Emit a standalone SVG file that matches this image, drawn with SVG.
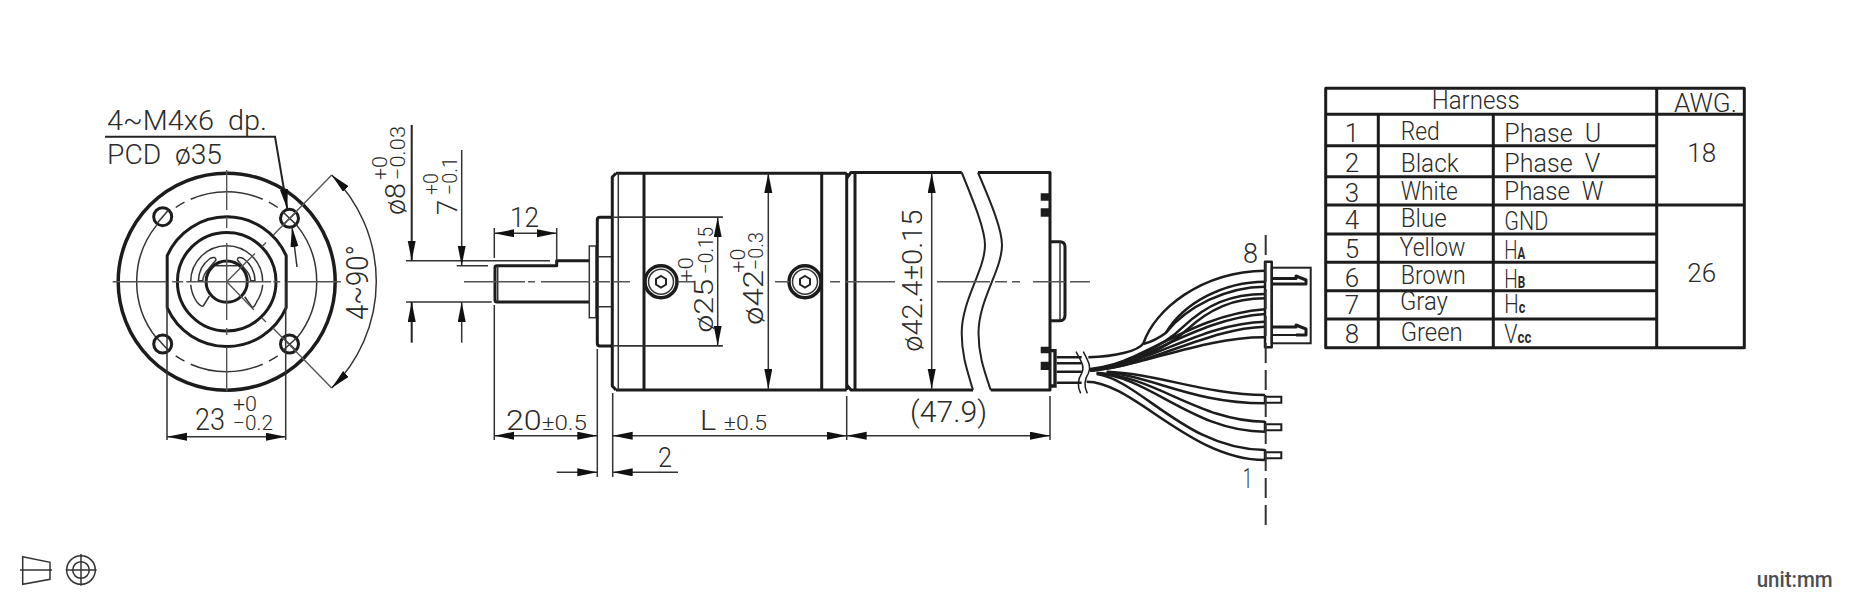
<svg xmlns="http://www.w3.org/2000/svg" width="1850" height="594" viewBox="0 0 1850 594">
<defs>
<marker id="a" markerUnits="userSpaceOnUse" markerWidth="21" markerHeight="9" refX="20" refY="4" orient="auto-start-reverse"><path d="M0 0L20 4L0 8z" style="fill:#111;stroke:none"/></marker>
</defs>
<style>
text{font-family:Roboto,"Liberation Sans",sans-serif;font-weight:300;fill:#2a2a2a;font-size:28px}
.s{font-size:21px}
.tb{font-size:26px}
.sub{font-size:16px;font-weight:700}
path,line,rect,circle{fill:none;stroke-linecap:butt}
.k{stroke:#1c1c1c;stroke-width:3;stroke-linejoin:round}
.m{stroke:#222;stroke-width:2}
.t{stroke:#333;stroke-width:1.5}
.c{stroke:#555;stroke-width:1.4}
.both{marker-start:url(#a);marker-end:url(#a)}
.end{marker-end:url(#a)}
.wire{stroke:#1c1c1c;stroke-width:7.5;fill:none}
.wire2{stroke:#1c1c1c;stroke-width:10;fill:none}
</style>
<rect x="0" y="0" width="1850" height="594" style="fill:#fff;stroke:none"/>

<g id="front-view">
<g transform="translate(226.7 281.7)">
<circle class="k" r="108.5" style="stroke-width:3.5"/>
<path class="t" d="M-36 -82.5A90 90 0 0 1 36 -82.5M-42.2 -79.5A90 90 0 0 0 -51 -74.2M42.2 -79.5A90 90 0 0 1 51 -74.2M-70 -56.6A90 90 0 0 0 -70 56.6M70 -56.6A90 90 0 0 1 70 56.6M-36 82.5A90 90 0 0 0 36 82.5M-42.2 79.5A90 90 0 0 1 -51 74.2M42.2 79.5A90 90 0 0 0 51 74.2"/>
<path class="k" d="M-59.5 -26A65 65 0 0 1 59.5 -26L59.5 26A65 65 0 0 1 -59.5 26Z"/>
<circle class="k" r="49.3"/>
<circle class="k" r="20.6"/>
<path class="t" d="M-36 0A36 36 0 0 1 36 0"/>
<path class="t" d="M-11 -16H11"/>
<path class="t" d="M-28.3 -1A28.3 28.3 0 0 1 -16.7 -23.2Q-11 -26 -10.7 -21.7L-18.3 -12.7A20 20 0 0 0 -24 -1ZM28.3 -1A28.3 28.3 0 0 0 16.7 -23.2Q11 -26 10.7 -21.7L18.3 -12.7A20 20 0 0 1 24 -1Z"/>
<path class="t" d="M-36 3A36 36 0 0 0 -30 20Q-25 26 -23.3 24L-17.3 14.3M36 3A36 36 0 0 1 30 20Q27 27 25 25L18 15"/>
<circle class="k" cx="62.8" cy="-63.4" r="9"/><path class="t" d="M56 -70L70 -56.6M70 -70L56 -56.6"/>
<circle class="k" cx="-64" cy="-65" r="9"/><path class="t" d="M-70 -58L-58 -72"/>
<circle class="k" cx="-64" cy="62.3" r="9"/><path class="t" d="M-70 56L-58 69"/>
<circle class="k" cx="62.8" cy="62.3" r="9"/><path class="t" d="M56 69L70 56M70 69L56 56"/>
<path class="c" d="M-114 0H-60M-54.5 0H-43.5M-40.5 0H44.5M46.5 0H53.5M60.5 0H114M0 -111.7V-71.7M0 -64.7V-53.7M0 -38.7V38.3M0 46.3V53.3M0 65.3V110"/>
<path class="c" d="M0 0L28.3 -28.3M35 -35L39.3 -39.3M46.7 -46.7L105 -106.7M0 0L27.3 28.3M35 36L39.3 40.3M46 46L105 106.3"/>
</g>
<path class="t" d="M167 282V440M285.7 282V440"/>
<path class="t both" d="M167 436.7H285.7"/>
<path class="t both" d="M331.7 175A149.5 149.5 0 0 1 331.7 388"/>
<path class="m end" d="M105 136.7H275L287.3 209"/>
<path class="t end" d="M297 267L292 227"/>
<text x="107" y="130" textLength="160" lengthAdjust="spacingAndGlyphs">4~M4x6&#160;&#160;dp.</text>
<text x="107" y="164" textLength="115" lengthAdjust="spacingAndGlyphs">PCD&#160;&#160;ø35</text>
<text x="195" y="430" textLength="30" lengthAdjust="spacingAndGlyphs" style="font-size:31px">23</text>
<text x="233" y="411" textLength="24" lengthAdjust="spacingAndGlyphs" class="s">+0</text>
<text x="233" y="430" textLength="40" lengthAdjust="spacingAndGlyphs" class="s">−0.2</text>
<text transform="translate(368 320) rotate(-90)" textLength="75" lengthAdjust="spacingAndGlyphs" style="font-size:31px">4~90°</text>
</g>

<g id="side-view">
<path class="k" d="M495 300V267.5Q495 265.7 497 265.7H556.7V260.7H590M590 302H497Q495 302 495 300"/>
<path class="t" d="M497.7 266V302"/>
<rect class="t" x="589.3" y="246" width="6.7" height="71.7"/>
<path class="k" d="M612.3 217.3H600Q597.3 217.3 597.3 220V343Q597.3 346 600 346H612.3"/>
<path class="t" d="M597.3 256.7H612.3M597.3 306.7H612.3"/>
<path class="k" d="M616 173.2L612.3 177V386L616 390M846.7 173.2H616M846.7 390H616"/>
<path class="t" d="M618.3 173V390M618 217.3H722.7M618 345.7H722.7"/>
<path class="k" d="M644 173V390M821.7 173V390M846.7 173V390"/>
<path class="k" d="M846.7 178L851 172.5H961.7M846.7 385L851 390H973M855 172.5V390M978 172.5H1050V390H990.7"/>
<path class="m" d="M961.7 172.5C975 205 985 230 985 245C985 270 961.7 300 961.7 333C961.7 355 967 370 973 390M978 172.5C992 205 1002 230 1002 245C1002 270 978.5 300 978.5 333C978.5 355 984 370 990.7 390"/>
<path d="M1040.7 193.3h9.3v7.4h-9.3zM1040.7 208.3h9.3v8.4h-9.3zM1040.7 346.7h9.3v6.6h-9.3zM1040.7 361.7h9.3v8.3h-9.3z" style="fill:#1c1c1c;stroke:none"/>
<path class="k" d="M1050 241.7H1060Q1065 241.7 1065 247V315Q1065 320.7 1060 320.7H1050"/>
<path class="t" d="M1060 242V320"/>
<g id="screws">
<circle class="k" cx="661" cy="281.7" r="16" style="stroke-width:3.5"/><circle class="t" cx="661" cy="281.7" r="12.5"/><path class="m" d="M661 276L666 279V284.5L661 287.5L656 284.5V279Z"/>
<circle class="k" cx="805" cy="281.7" r="16" style="stroke-width:3.5"/><circle class="t" cx="805" cy="281.7" r="12.5"/><path class="m" d="M805 276L810 279V284.5L805 287.5L800 284.5V279Z"/>
</g>
<path class="c" d="M464 281.7H525M528 281.7H535M541 281.7H590M593 281.7H596M597 281.7H610M613 281.7H630M678 281.7H695M775 281.7H789M830 281.7H840M846 281.7H895M937 281.7H990M995 281.7H1007M1012 281.7H1020M1033 281.7H1065M1070 281.7H1090"/>
<path class="t" d="M406 260.7H550M456.7 265.7H488M406 302H491.7M494.3 228V258M556.7 228V260M494.3 305V440M597.3 349V477M612.7 393V477M846.7 396V440M1050 396V440"/>
<path class="t" d="M722.7 217.3H612M722.7 345.7H612"/>
<path class="m end" d="M411.7 125V260.7"/><path class="m end" d="M411.7 342.7V302"/>
<path class="t end" d="M461.7 150V265.7"/><path class="t end" d="M461.7 342.7V302"/>
<path class="t both" d="M494.3 233.3H556.7"/>
<path class="t both" d="M494.3 435.7H597.3"/>
<path class="t both" d="M612.7 435.7H846.7"/>
<path class="t both" d="M846.7 435.7H1050"/>
<path class="t end" d="M556.7 472.3H597.3"/>
<path class="t end" d="M678 472.3H612.7"/>
<path class="t both" d="M768.3 173V389"/>
<path class="t both" d="M931.7 173V389"/>
<path class="t both" d="M717.7 217.3V345.7"/>
<text transform="translate(405 215) rotate(-90)" textLength="32" lengthAdjust="spacingAndGlyphs">ø8</text>
<text transform="translate(387 180) rotate(-90)" textLength="24" lengthAdjust="spacingAndGlyphs" class="s">+0</text>
<text transform="translate(405 180) rotate(-90)" textLength="54" lengthAdjust="spacingAndGlyphs" class="s">−0.03</text>
<text transform="translate(456.7 215) rotate(-90)" textLength="15" lengthAdjust="spacingAndGlyphs">7</text>
<text transform="translate(438 195) rotate(-90)" textLength="22" lengthAdjust="spacingAndGlyphs" class="s">+0</text>
<text transform="translate(456.7 195) rotate(-90)" textLength="38" lengthAdjust="spacingAndGlyphs" class="s">−0.1</text>
<text x="510" y="227" textLength="29" lengthAdjust="spacingAndGlyphs">12</text>
<text x="506" y="430" textLength="81" lengthAdjust="spacingAndGlyphs">20<tspan class="s">±0.5</tspan></text>
<text x="658" y="466.7" textLength="14" lengthAdjust="spacingAndGlyphs">2</text>
<text x="700" y="430" textLength="67" lengthAdjust="spacingAndGlyphs">L <tspan class="s">±0.5</tspan></text>
<text x="910" y="421.7" textLength="77" lengthAdjust="spacingAndGlyphs" style="font-size:30px">(47.9)</text>
<text transform="translate(712.7 332.7) rotate(-90)" textLength="54" lengthAdjust="spacingAndGlyphs" style="font-size:25px">ø25</text>
<text transform="translate(693 282) rotate(-90)" textLength="25" lengthAdjust="spacingAndGlyphs" class="s">+0</text>
<text transform="translate(712.7 274) rotate(-90)" textLength="47" lengthAdjust="spacingAndGlyphs" class="s">−0.15</text>
<text transform="translate(763 325) rotate(-90)" textLength="55" lengthAdjust="spacingAndGlyphs">ø42</text>
<text transform="translate(745 272.7) rotate(-90)" textLength="24" lengthAdjust="spacingAndGlyphs" class="s">+0</text>
<text transform="translate(763 270) rotate(-90)" textLength="38" lengthAdjust="spacingAndGlyphs" class="s">−0.3</text>
<text transform="translate(922 351.7) rotate(-90)" textLength="142" lengthAdjust="spacingAndGlyphs">ø42.4±0.15</text>
</g>

<g id="harness">
<g transform="translate(1040 220) scale(.33333)">
<path class="wire2" d="M30 392H45V498H30"/>
<path class="wire" d="M50 412H125M50 430H125M50 455H125M50 488H125"/>
<path class="wire" style="stroke-width:4.5" d="M108 395C125 425 135 440 125 460C112 480 112 500 122 520M130 395C145 425 155 440 145 460C132 480 132 500 142 520"/>
<path class="wire" d="M145 412C230 410 295 392 310 370C345 270 480 155 675 152"/>
<path class="wire" d="M310 372C345 362 365 348 378 338C430 250 550 185 675 185"/>
<path class="wire" d="M378 338C440 260 560 200 675 200"/>
<path class="wire" d="M150 447C250 435 370 380 430 320C500 255 570 222 675 222"/>
<path class="wire" d="M150 450C270 435 380 385 440 330C510 265 580 235 675 235"/>
<path class="wire" d="M150 450C300 435 450 285 675 268"/>
<path class="wire" d="M150 452C310 435 470 295 675 282"/>
<path class="wire" d="M150 450C320 440 480 310 675 305"/>
<path class="wire" d="M150 452C330 440 500 325 675 320"/>
<path class="wire" d="M150 452C300 442 490 350 675 352"/>
<path class="wire" d="M200 455C350 460 500 525 675 525"/>
<path class="wire" d="M200 457C340 470 460 550 675 550"/>
<path class="wire" d="M170 458C350 470 480 605 675 605"/>
<path class="wire" d="M170 460C330 470 460 635 675 635"/>
<path class="wire" d="M170 462C300 480 440 690 675 690"/>
<path class="wire" d="M140 485C280 485 450 720 675 720"/>
<path class="wire" d="M675 525V552M675 603V637M675 688V722"/>
<path class="wire" style="stroke-width:6" d="M675 530H724V548H675M675 613H724V631H675M675 697H724V715H675"/>
</g>
<g id="connector">
<rect class="k" x="1265" y="261.7" width="6.7" height="85.6" style="stroke-width:2.5"/>
<rect class="m" x="1271.7" y="267.7" width="39" height="75.6"/>
<path class="k" d="M1271.7 278.5H1296V276L1306 280V284H1271.7M1271.7 327H1296V325L1306 329V335H1296"/>
<path class="k" d="M1271.7 335H1297" style="stroke-width:2"/>
</g>
<path class="m" style="stroke-dasharray:20 7;stroke:#333" d="M1265.7 235V525"/>
<text x="1243" y="263" textLength="15" lengthAdjust="spacingAndGlyphs">8</text>
<text x="1243" y="488" textLength="9" lengthAdjust="spacingAndGlyphs">1</text>
</g>

<g id="harness-table">
<rect class="k" x="1325.7" y="88.3" width="418.6" height="259.4"/>
<path class="k" d="M1325.7 114.3H1744.3M1378.3 114.3V347.7M1493.3 114.3V347.7M1656.7 88.3V347.7M1325.7 145.7H1656.7M1325.7 176.7H1656.7M1325.7 205H1744.3M1325.7 234H1656.7M1325.7 262.3H1656.7M1325.7 290.7H1656.7M1325.7 319H1656.7"/>
<text class="tb" x="1431.7" y="109" textLength="88" lengthAdjust="spacingAndGlyphs">Harness</text>
<text class="tb" x="1674" y="111.7" textLength="63" lengthAdjust="spacingAndGlyphs">AWG.</text>
<text x="1352" y="141.7" text-anchor="middle" class="tb">1</text>
<text x="1352" y="172.3" text-anchor="middle" class="tb">2</text>
<text x="1352" y="201.7" text-anchor="middle" class="tb">3</text>
<text x="1352" y="229" text-anchor="middle" class="tb">4</text>
<text x="1352" y="258.3" text-anchor="middle" class="tb">5</text>
<text x="1352" y="286.7" text-anchor="middle" class="tb">6</text>
<text x="1352" y="314.3" text-anchor="middle" class="tb">7</text>
<text x="1352" y="343.3" text-anchor="middle" class="tb">8</text>
<text class="tb" x="1400.7" y="140" textLength="39" lengthAdjust="spacingAndGlyphs">Red</text>
<text class="tb" x="1400.7" y="171.7" textLength="58" lengthAdjust="spacingAndGlyphs">Black</text>
<text class="tb" x="1400.7" y="200" textLength="57" lengthAdjust="spacingAndGlyphs">White</text>
<text class="tb" x="1400.7" y="227" textLength="46" lengthAdjust="spacingAndGlyphs">Blue</text>
<text class="tb" x="1399.5" y="256" textLength="66" lengthAdjust="spacingAndGlyphs">Yellow</text>
<text class="tb" x="1400.7" y="284" textLength="65" lengthAdjust="spacingAndGlyphs">Brown</text>
<text class="tb" x="1400" y="310" textLength="48" lengthAdjust="spacingAndGlyphs">Gray</text>
<text class="tb" x="1400.7" y="341" textLength="62" lengthAdjust="spacingAndGlyphs">Green</text>
<text class="tb" x="1504.3" y="141.7" textLength="97" lengthAdjust="spacingAndGlyphs">Phase&#160;&#160;U</text>
<text class="tb" x="1504.3" y="171.7" textLength="96" lengthAdjust="spacingAndGlyphs">Phase&#160;&#160;V</text>
<text class="tb" x="1504.3" y="200" textLength="99" lengthAdjust="spacingAndGlyphs">Phase&#160;&#160;W</text>
<text class="tb" x="1504.3" y="230" textLength="44" lengthAdjust="spacingAndGlyphs">GND</text>
<text class="tb" x="1504.3" y="259" textLength="21" lengthAdjust="spacingAndGlyphs">H<tspan class="sub">A</tspan></text>
<text class="tb" x="1504.3" y="287.7" textLength="21" lengthAdjust="spacingAndGlyphs">H<tspan class="sub">B</tspan></text>
<text class="tb" x="1504.3" y="313.3" textLength="21" lengthAdjust="spacingAndGlyphs">H<tspan class="sub">c</tspan></text>
<text class="tb" x="1504.3" y="342.7" textLength="27" lengthAdjust="spacingAndGlyphs">V<tspan class="sub">cc</tspan></text>
<text class="tb" x="1701.7" y="162.3" text-anchor="middle">18</text>
<text class="tb" x="1701.7" y="282.3" text-anchor="middle">26</text>
</g>

<g id="projection-symbol">
<path class="t" d="M22.7 556.7L50 562.3V579.3L22.7 584.3Z"/>
<path class="t" d="M20 570H52M65.7 570H96.7M81 554V585.7"/>
<circle class="t" cx="81" cy="570" r="14.3"/>
<circle class="t" cx="81" cy="570" r="8.3"/>
</g>
<text x="1756.7" y="587" textLength="76" lengthAdjust="spacingAndGlyphs" style="font-size:22px;font-weight:500;fill:#4a4f55">unit:mm</text>
</svg>
